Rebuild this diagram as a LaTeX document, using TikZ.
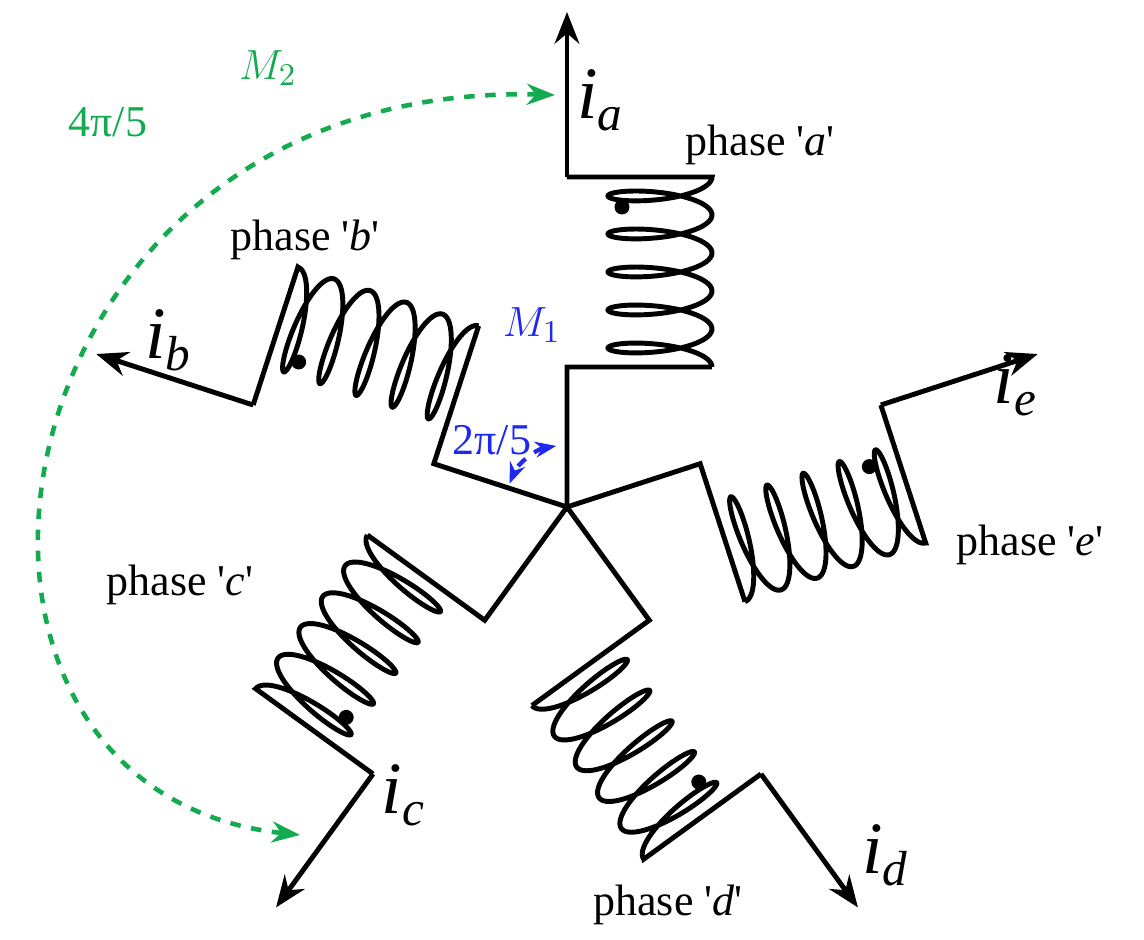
\documentclass[tikz,border=0pt]{standalone}
\usepackage{fontspec}
\setmainfont{Liberation Serif}
\usetikzlibrary{arrows.meta}
\definecolor{mgreen}{RGB}{20,170,80}
\definecolor{mblue}{RGB}{30,40,240}
\newcommand{\q}{\textquotesingle}
\newcommand{\cur}[1]{\textit{i}\raisebox{-0.35ex}{\fontsize{14}{14}\selectfont\textit{#1}}}
\tikzset{wire/.style={line width=1.4pt,line join=miter},
 cur/.style={line width=1.4pt,-{Stealth[length=9pt,width=7pt]}},
 lab/.style={font=\fontsize{12.5}{14}\selectfont},
 ilab/.style={font=\fontsize{21}{23}\selectfont}}
\begin{document}
\begin{tikzpicture}[x=0.01cm,y=-0.01cm]
\useasboundingbox (0,0) rectangle (1144,940);
\coordinate (O) at (567,507);
\foreach \th/\nm in {90/a,162/b,234/c,306/d,18/e}{
 \begin{scope}[shift={(O)},rotate=\th-90,y=0.01cm]
  \coordinate (j1\nm) at (0,140);
  \coordinate (j2\nm) at (145,140);
  \coordinate (j3\nm) at (145,330);
  \coordinate (j4\nm) at (0,330);
  \coordinate (tip\nm) at (0,495);
  \draw[wire] (0,0) -- (j1\nm) -- (j2\nm)
   plot[domain=0:31.4159,samples=300,variable=\t] ({145-52*(1-cos(\t r))},{140+6.05*\t+13*sin(\t r)})
   -- (j3\nm) -- (j4\nm);
  \draw[cur] (j4\nm) -- (tip\nm);
  \fill (55,300) circle (7.5);
 \end{scope}}
\node[ilab] at (600,100) {\cur{a}};
\node[ilab] at (168,340) {\cur{b}};
\node[ilab] at (403,795) {\cur{c}};
\node[ilab] at (885,855) {\cur{d}};
\node[ilab] at (1015,385) {\cur{e}};
\node[lab] at (760,145) {phase \q\textit{a}\q};
\node[lab] at (305,240) {phase \q\textit{b}\q};
\node[lab] at (180,585) {phase \q\textit{c}\q};
\node[lab] at (668,905) {phase \q\textit{d}\q};
\node[lab] at (1030,545) {phase \q\textit{e}\q};
\node[lab,text=mblue] at (532,325) {$M_1$};
\node[lab,text=mblue] at (492,440) {2π/5};
\node[lab,text=mgreen] at (268,68) {$M_2$};
\node[lab,text=mgreen] at (108,122) {4π/5};
\begin{scope}[shift={(O)},y=0.01cm]
\draw[mblue,line width=1.2pt,dashed,{Stealth[length=6pt]}-{Stealth[length=6pt]}] (100:62) arc[start angle=100,end angle=158,radius=62];
\end{scope}
\draw[mgreen,line width=1.3pt,dashed,{Stealth[length=8pt]}-{Stealth[length=8pt]}] (555,95) .. controls (-20,80) and (-120,790) .. (300,835);
\end{tikzpicture}
\end{document}
